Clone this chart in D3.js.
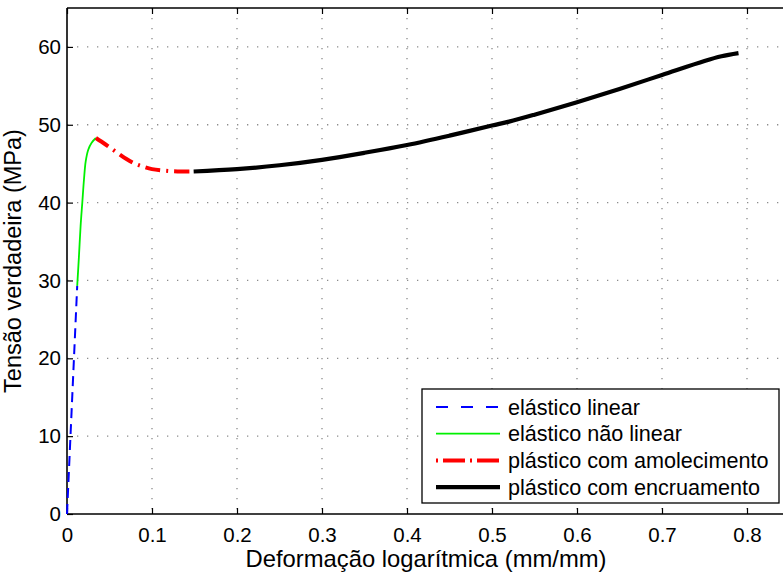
<!DOCTYPE html>
<html>
<head>
<meta charset="utf-8">
<script src="https://cdn.jsdelivr.net/npm/d3@7"></script>
<style>
  body { margin: 0; background: #fff; }
  svg { font-family: "Liberation Sans", Arial, sans-serif; }
</style>
</head>
<body>
<div id="chart"></div>
<script>
// Data
const elasticLinear = [[0, 0], [0.012, 29.3]];
const elasticNonLinear = [
  [0.012, 29.3], [0.014, 33], [0.016, 37], [0.018, 40], [0.020, 43],
  [0.022, 45.3], [0.025, 46.8], [0.029, 47.7], [0.034, 48.3]
];
const plasticSoftening = [
  [0.034, 48.3], [0.045, 47.5], [0.058, 46.5], [0.070, 45.6], [0.080, 45.0],
  [0.090, 44.6], [0.100, 44.3], [0.115, 44.1], [0.130, 44.0], [0.149, 44.0]
];
const plasticHardening = [
  [0.149, 44.0], [0.2, 44.3], [0.25, 44.8], [0.3, 45.5], [0.35, 46.4],
  [0.4, 47.4], [0.45, 48.6], [0.5, 49.9], [0.52, 50.4], [0.55, 51.3],
  [0.6, 52.9], [0.65, 54.6], [0.7, 56.4], [0.75, 58.2], [0.77, 58.8], [0.79, 59.2]
];
const xTicks = [0, 0.1, 0.2, 0.3, 0.4, 0.5, 0.6, 0.7, 0.8];
const yTicks = [0, 10, 20, 30, 40, 50, 60];
const legendLabels = ["elástico linear", "elástico não linear", "plástico com amolecimento", "plástico com encruamento"];

const W = 783, H = 578;
const margin = { top: 8, left: 67, bottom: 64 };
const plotBottom = H - margin.bottom;

const x = d3.scaleLinear().domain([0, 0.85]).range([margin.left, margin.left + 722.5]);
const y = d3.scaleLinear().domain([0, 65]).range([plotBottom, margin.top]);

const svg = d3.select("#chart").append("svg")
  .attr("width", W)
  .attr("height", H);

// Grid
const grid = svg.append("g").attr("stroke", "#8c8c8c").attr("stroke-width", 1.3)
  .attr("stroke-dasharray", "1.3,8.7");
grid.selectAll(".gx").data(xTicks.slice(1)).enter().append("line")
  .attr("x1", d => x(d)).attr("x2", d => x(d))
  .attr("y1", y(65)).attr("y2", plotBottom);
grid.selectAll(".gy").data(yTicks.slice(1)).enter().append("line")
  .attr("x1", margin.left).attr("x2", W)
  .attr("y1", d => y(d)).attr("y2", d => y(d));

// Axes
const axisFont = 20.5;
const xAxis = svg.append("g")
  .attr("transform", `translate(0,${plotBottom})`)
  .call(d3.axisBottom(x).tickValues(xTicks).tickSize(-6).tickPadding(13).tickFormat(d3.format("")));
const xTop = svg.append("g")
  .attr("transform", `translate(0,${margin.top})`)
  .call(d3.axisTop(x).tickValues(xTicks).tickSize(-6).tickFormat(""));
const yAxis = svg.append("g")
  .attr("transform", `translate(${margin.left},0)`)
  .call(d3.axisLeft(y).tickValues(yTicks).tickSize(-6).tickPadding(6));

[xAxis, xTop, yAxis].forEach(g => {
  g.select(".domain").attr("stroke", "#000").attr("stroke-width", 1.6);
  g.selectAll(".tick line").attr("stroke", "#000").attr("stroke-width", 1.2);
  g.selectAll("text").attr("font-size", axisFont).attr("fill", "#000")
    .attr("font-family", "Liberation Sans, Arial, sans-serif");
});
xAxis.select(".domain").attr("d", `M${margin.left},0H${W}`);
xTop.select(".domain").attr("d", `M${margin.left},0H${W}`);
yAxis.select(".domain").attr("d", `M0,${margin.top}V${plotBottom}`);

// Lines
const series = [
  { data: elasticLinear, color: "#0000ff", width: 2, dash: "10,6", legendDash: "12,13" },
  { data: elasticNonLinear, color: "#00f000", width: 1.8, dash: null, legendDash: null },
  { data: plasticSoftening, color: "#ff0000", width: 4, dash: "15,6,2,6", legendDash: "2,5,22,5" },
  { data: plasticHardening, color: "#000000", width: 4.2, dash: null, legendDash: null }
];
svg.append("g").selectAll("path").data(series).enter().append("path")
  .attr("d", d => d3.line().x(p => x(p[0])).y(p => y(p[1])).curve(d3.curveCatmullRom)(d.data))
  .attr("fill", "none")
  .attr("stroke", d => d.color)
  .attr("stroke-width", d => d.width)
  .attr("stroke-dasharray", d => d.dash);

// Axis labels
svg.append("text")
  .attr("x", 426).attr("y", 567)
  .attr("text-anchor", "middle").attr("font-size", 23.8)
  .text("Deformação logarítmica (mm/mm)");
svg.append("text")
  .attr("transform", `translate(21,${(margin.top + plotBottom) / 2}) rotate(-90)`)
  .attr("text-anchor", "middle").attr("font-size", 23.5)
  .text("Tensão verdadeira (MPa)");

// Legend
const legend = svg.append("g").attr("transform", "translate(422,389)");
legend.append("rect").attr("width", 357).attr("height", 114)
  .attr("fill", "#fff").attr("stroke", "#000").attr("stroke-width", 1.3);
const rows = legend.selectAll(".row").data(series).enter().append("g")
  .attr("transform", (d, i) => `translate(0,${18 + i * 26.7})`);
rows.append("line").attr("x1", 14).attr("x2", 78)
  .attr("stroke", d => d.color)
  .attr("stroke-width", d => d.width)
  .attr("stroke-dasharray", d => d.legendDash);
rows.append("text").attr("x", 86).attr("dy", "0.35em")
  .attr("font-size", 21.6)
  .text((d, i) => legendLabels[i]);
</script>
</body>
</html>
